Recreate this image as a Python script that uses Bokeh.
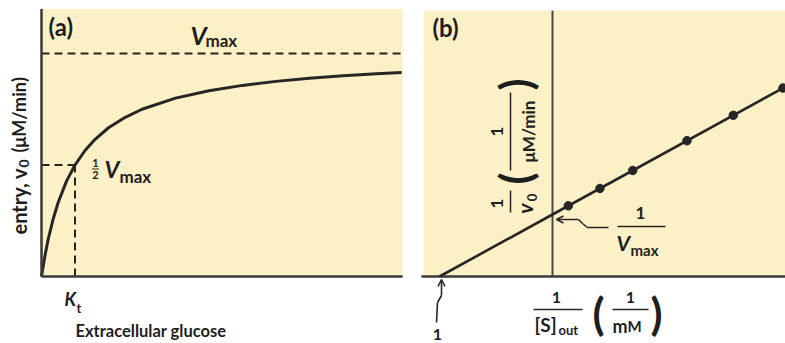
from math import pi
from bokeh.plotting import figure
from bokeh.layouts import row
from bokeh.models import Label, Arrow, OpenHead, BoxAnnotation
from bokeh.embed import file_html
from bokeh.resources import INLINE

# ---------------- data ----------------
# (a) glucose entry rate vs extracellular glucose (units of Kt and Vmax)
glucose = [0, 0.1, 0.2, 0.35, 0.5, 0.75, 1.0, 1.3, 1.6, 2.0, 2.5, 3.0,
           4.0, 5.0, 6.0, 7.0, 8.0, 9.0, 10.0, 10.75]
entry_rate = [0, 0.091, 0.167, 0.259, 0.333, 0.429, 0.5, 0.565, 0.615, 0.667,
              0.714, 0.75, 0.8, 0.833, 0.857, 0.875, 0.889, 0.9, 0.909, 0.915]
vmax = 1.0
kt = 1.0
glucose_max = 10.78      # right end of the plotted glucose axis
rate_top = 1.2          # top of the rate axis

# (b) double-reciprocal (Lineweaver-Burk) plot
inv_s_line = [-1.0, 0.0, 2.06]
inv_v_line = [0.0, 1.0, 3.06]
inv_s_pts = [0.14, 0.42, 0.71, 1.19, 1.60, 2.04]
inv_v_pts = [1.14, 1.42, 1.71, 2.19, 2.60, 3.04]
inv_s_min = -1.14
inv_s_max = 2.07
inv_v_top = 4.29

# ---------------- style ----------------
BG = "#FBF0C6"
INK = "#262626"
AXC = "#3a3a3a"
TXT = "#1e1e1e"
FONT = "Lato"


def lab(p, x, y, text, size=16, style="bold", align="left", base="middle", angle=0.0):
    p.add_layout(Label(x=x, y=y, text=text, text_font=FONT, text_font_size=f"{size}px",
                       text_font_style=style, text_align=align, text_baseline=base,
                       text_color=TXT, angle=angle))


def seg(p, x0, y0, x1, y1, width=1.6, head=False, color=INK):
    p.add_layout(Arrow(x_start=x0, y_start=y0, x_end=x1, y_end=y1,
                       line_color=color, line_width=width,
                       end=OpenHead(size=7, line_width=1.6, line_color=INK) if head else None))


def make_fig(width, xr, yr):
    p = figure(width=width, height=343, x_range=xr, y_range=yr,
               x_axis_type=None, y_axis_type=None, toolbar_location=None,
               output_backend="svg", min_border_left=0, min_border_right=0,
               min_border_top=0, min_border_bottom=0, background_fill_color="white",
               border_fill_color="white", outline_line_color=None)
    return p


# ---------------- panel (a) ----------------
def AX(px):
    return (px - 41) / 33.5


def AY(py):
    return (276 - py) / 223.0


pa = make_fig(413, (AX(0), AX(413)), (AY(343), AY(0)))
pa.add_layout(BoxAnnotation(left=0, right=glucose_max, bottom=0, top=rate_top,
                            fill_color=BG, fill_alpha=1, line_color=None, level="underlay"))

pa.line([0, glucose_max], [vmax, vmax], line_color=INK, line_width=2, line_dash="8 5")
pa.line([0, kt], [vmax / 2, vmax / 2], line_color=INK, line_width=2, line_dash="8 5")
pa.line([kt, kt], [0, vmax / 2], line_color=INK, line_width=2, line_dash="8 5")
pa.line(glucose, entry_rate, line_color=INK, line_width=3)
pa.line([0, 0], [0, rate_top], line_color=AXC, line_width=2.5)
pa.line([0, glucose_max], [0, 0], line_color=AXC, line_width=2.5)

lab(pa, AX(48), AY(26), "(a)", size=24)
lab(pa, AX(190), AY(34), "V", size=25, style="bold italic")
lab(pa, AX(205), AY(40), "max", size=17)
# 1/2 Vmax
lab(pa, AX(95), AY(162.5), "1", size=11, align="center")
seg(pa, AX(91.5), AY(168.5), AX(98.5), AY(168.5), width=1.2)
lab(pa, AX(95), AY(174.5), "2", size=11, align="center")
lab(pa, AX(104), AY(168), "V", size=23, style="bold italic")
lab(pa, AX(119), AY(176), "max", size=17)
# Kt
lab(pa, AX(64), AY(298), "K", size=18, style="bold italic")
lab(pa, AX(76), AY(307), "t", size=13)
lab(pa, AX(75), AY(330), "Extracellular glucose", size=16.5)
# y label (rotated)
lab(pa, AX(18), AY(234), "entry, v", size=20, angle=pi / 2)
lab(pa, AX(23), AY(167), "0", size=14, angle=pi / 2)
lab(pa, AX(18), AY(152), "(\u03bcM/min)", size=18, angle=pi / 2)

# ---------------- panel (b) ----------------
def BX(px):
    return (px - 552) / 113.0


def BY(py):
    return (276 - py) / 62.0


pb = make_fig(372, (BX(413), BX(785)), (BY(343), BY(0)))
pb.add_layout(BoxAnnotation(left=inv_s_min, right=inv_s_max, bottom=0, top=inv_v_top,
                            fill_color=BG, fill_alpha=1, line_color=None, level="underlay"))

pb.line([0, 0], [0, inv_v_top], line_color="#4a4a4a", line_width=2)
pb.line([inv_s_min - 0.02, inv_s_max], [0, 0], line_color=AXC, line_width=2.5)
pb.line(inv_s_line, inv_v_line, line_color=INK, line_width=2.6)
pb.scatter(inv_s_pts, inv_v_pts, size=8.5, color=INK)

lab(pb, BX(432), BY(27), "(b)", size=24)
# y label: 1/v0 (1 / uM/min), rotated
lab(pb, BX(496), BY(203), "1", size=17, align="center", angle=pi / 2)
seg(pb, BX(510), BY(190), BX(510), BY(212), width=1.5)
lab(pb, BX(524), BY(208), "v", size=21, style="bold italic", align="center", angle=pi / 2)
lab(pb, BX(531), BY(197), "0", size=13, align="center", angle=pi / 2)
lab(pb, BX(514), BY(178), "(", size=44, align="center", angle=pi / 2)
lab(pb, BX(496), BY(131), "1", size=17, align="center", angle=pi / 2)
seg(pb, BX(510), BY(92), BX(510), BY(170), width=1.5)
lab(pb, BX(528), BY(131), "\u03bcM/min", size=17, align="center", angle=pi / 2)
lab(pb, BX(514), BY(84), ")", size=44, align="center", angle=pi / 2)
# 1/Vmax pointer
lab(pb, BX(640), BY(212), "1", size=17, align="center")
seg(pb, BX(617), BY(226), BX(665), BY(226), width=1.5)
lab(pb, BX(616), BY(241.5), "V", size=21, style="bold italic")
lab(pb, BX(630), BY(249), "max", size=15)
seg(pb, BX(608), BY(227), BX(587), BY(227))
seg(pb, BX(587), BY(227), BX(582), BY(223))
seg(pb, BX(582), BY(223), BX(578), BY(219))
seg(pb, BX(578), BY(219), BX(556), BY(219), head=True)
# bottom: 1/[S]out (1/mM)
lab(pb, BX(556), BY(297), "1", size=16, align="center")
seg(pb, BX(533), BY(309), BX(582), BY(309), width=1.5)
lab(pb, BX(534), BY(324), "[S]", size=19)
lab(pb, BX(558), BY(329), "out", size=13)
lab(pb, BX(598), BY(312), "(", size=44, align="center")
lab(pb, BX(630), BY(297), "1", size=16, align="center")
seg(pb, BX(612), BY(309), BX(648), BY(309), width=1.5)
lab(pb, BX(612), BY(325), "m", size=18)
lab(pb, BX(627), BY(325.5), "M", size=15)
lab(pb, BX(656), BY(312), ")", size=44, align="center")
# x-intercept pointer
seg(pb, BX(441), BY(295), BX(441), BY(279), head=True)
seg(pb, BX(441), BY(295), BX(437), BY(302))
seg(pb, BX(437), BY(302), BX(436), BY(322))
lab(pb, BX(437), BY(334), "1", size=16, align="center")

layout = row(pa, pb)
open("out.html", "w").write(file_html(layout, INLINE))
